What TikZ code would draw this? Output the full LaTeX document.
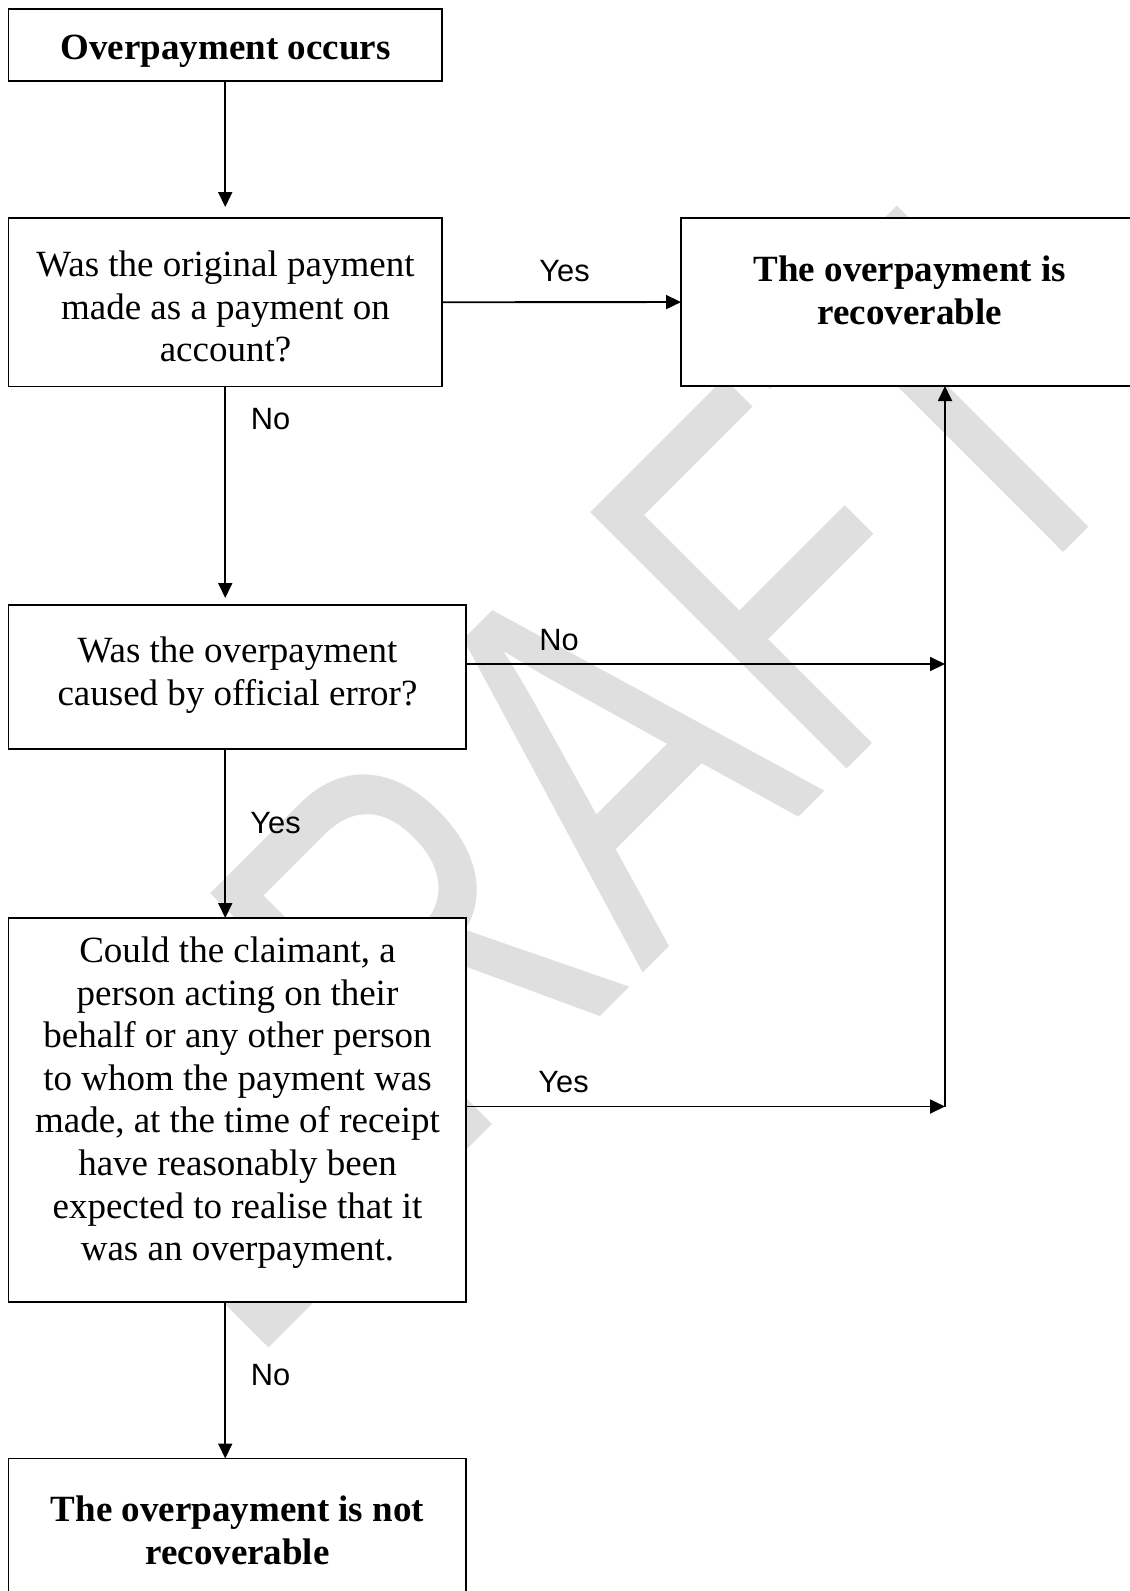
\documentclass[tikz,border=0pt]{standalone}
\usepackage{fontspec}
\setmainfont{Liberation Serif}
\newfontfamily\lblfont{Liberation Sans}
\newfontfamily\wmfont[Kerning=Off]{Liberation Sans}
\usetikzlibrary{arrows.meta,fit}
\definecolor{wmgray}{RGB}{223,223,223}
\newcommand\firstline{\rule{0pt}{20pt}}
\begin{document}
\begin{tikzpicture}[x=0.5pt,y=-0.5pt,
  box/.style={draw=black, line width=0.9pt, fill=white, inner sep=0pt, outer sep=0pt},
  txt/.style={align=center, inner sep=0pt, anchor=north, font=\fontsize{18.5pt}{21.3pt}\selectfont},
  btxt/.style={align=center, inner sep=0pt, anchor=north, font=\fontsize{18.5pt}{21.4pt}\selectfont\bfseries},
  lbl/.style={inner sep=0pt, anchor=base west, font=\lblfont\fontsize{15.4pt}{18pt}\selectfont},
  arr/.style={line width=0.9pt, -{Triangle[length=7.5pt,width=7pt]}}]

\useasboundingbox (0,0) rectangle (1130,1591);

% watermark
\begin{scope}[shift={(246,1370)}, rotate=45, xscale=0.736]
\node[anchor=base west, inner sep=0pt, outer sep=0pt, transform shape, text=wmgray,
      font=\wmfont\fontsize{263.5pt}{263.5pt}\selectfont] (wm) at (0,0) {DRAFT};
\end{scope}

% boxes
\node[box, fit={(8.5,9) (442,81)}] (b1) {};
\node[box, fit={(8.5,218) (442,386.5)}] (b2) {};
\node[box, fit={(681,218) (1138,386)}] (bR) {};
\node[box, fit={(8.5,605) (466,749)}] (b3) {};
\node[box, fit={(8.5,918) (466,1302)}] (b4) {};
\node[box, fit={(8.5,1458.5) (466,1600)}] (b5) {};

% texts
\node[btxt] (t1) at (225.5,19) {\firstline Overpayment occurs};
\node[txt] (t2) at (225.5,236) {\firstline Was the original payment\\made as a payment on\\account?};
\node[btxt] (tR) at (909.8,241) {\firstline The overpayment is\\recoverable};
\node[txt] (t3) at (237.5,622) {\firstline Was the overpayment\\caused by official error?};
\node[txt] (t4) at (237.5,922) {\firstline Could the claimant, a\\person acting on their\\behalf or any other person\\to whom the payment was\\made, at the time of receipt\\have reasonably been\\expected to realise that it\\was an overpayment.};
\node[btxt] (t5) at (237.5,1481) {\firstline The overpayment is not\\recoverable};

% connectors
\coordinate (j3) at (945,664);
\coordinate (j4) at (945,1106.5);
\draw[arr, shorten >=5.5pt] (b1) -- (b2);
\draw[arr, shorten >=3.5pt] (b2.south) -- (b2.south |- b3.north);
\draw[arr] (b2.south |- b3.south) -- (b2.south |- b4.north);
\draw[arr] (b2.south |- b4.south) -- (b2.south |- b5.north);
\draw[arr] (b2) -- (bR);
\draw[arr] (b3.east |- j3) -- (j3);
\draw[arr] (b4.east |- j4) -- (j4);
\draw[arr] (j4) -- (j4 |- bR.south);

% labels
\node[lbl] (l1) at (539,281.5) {Yes};
\node[lbl] (l2) at (250.5,429) {No};
\node[lbl] (l3) at (539,650.5) {No};
\node[lbl] (l4) at (250,833) {Yes};
\node[lbl] (l5) at (538,1092.5) {Yes};
\node[lbl] (l6) at (250.5,1385) {No};
\end{tikzpicture}
\end{document}
